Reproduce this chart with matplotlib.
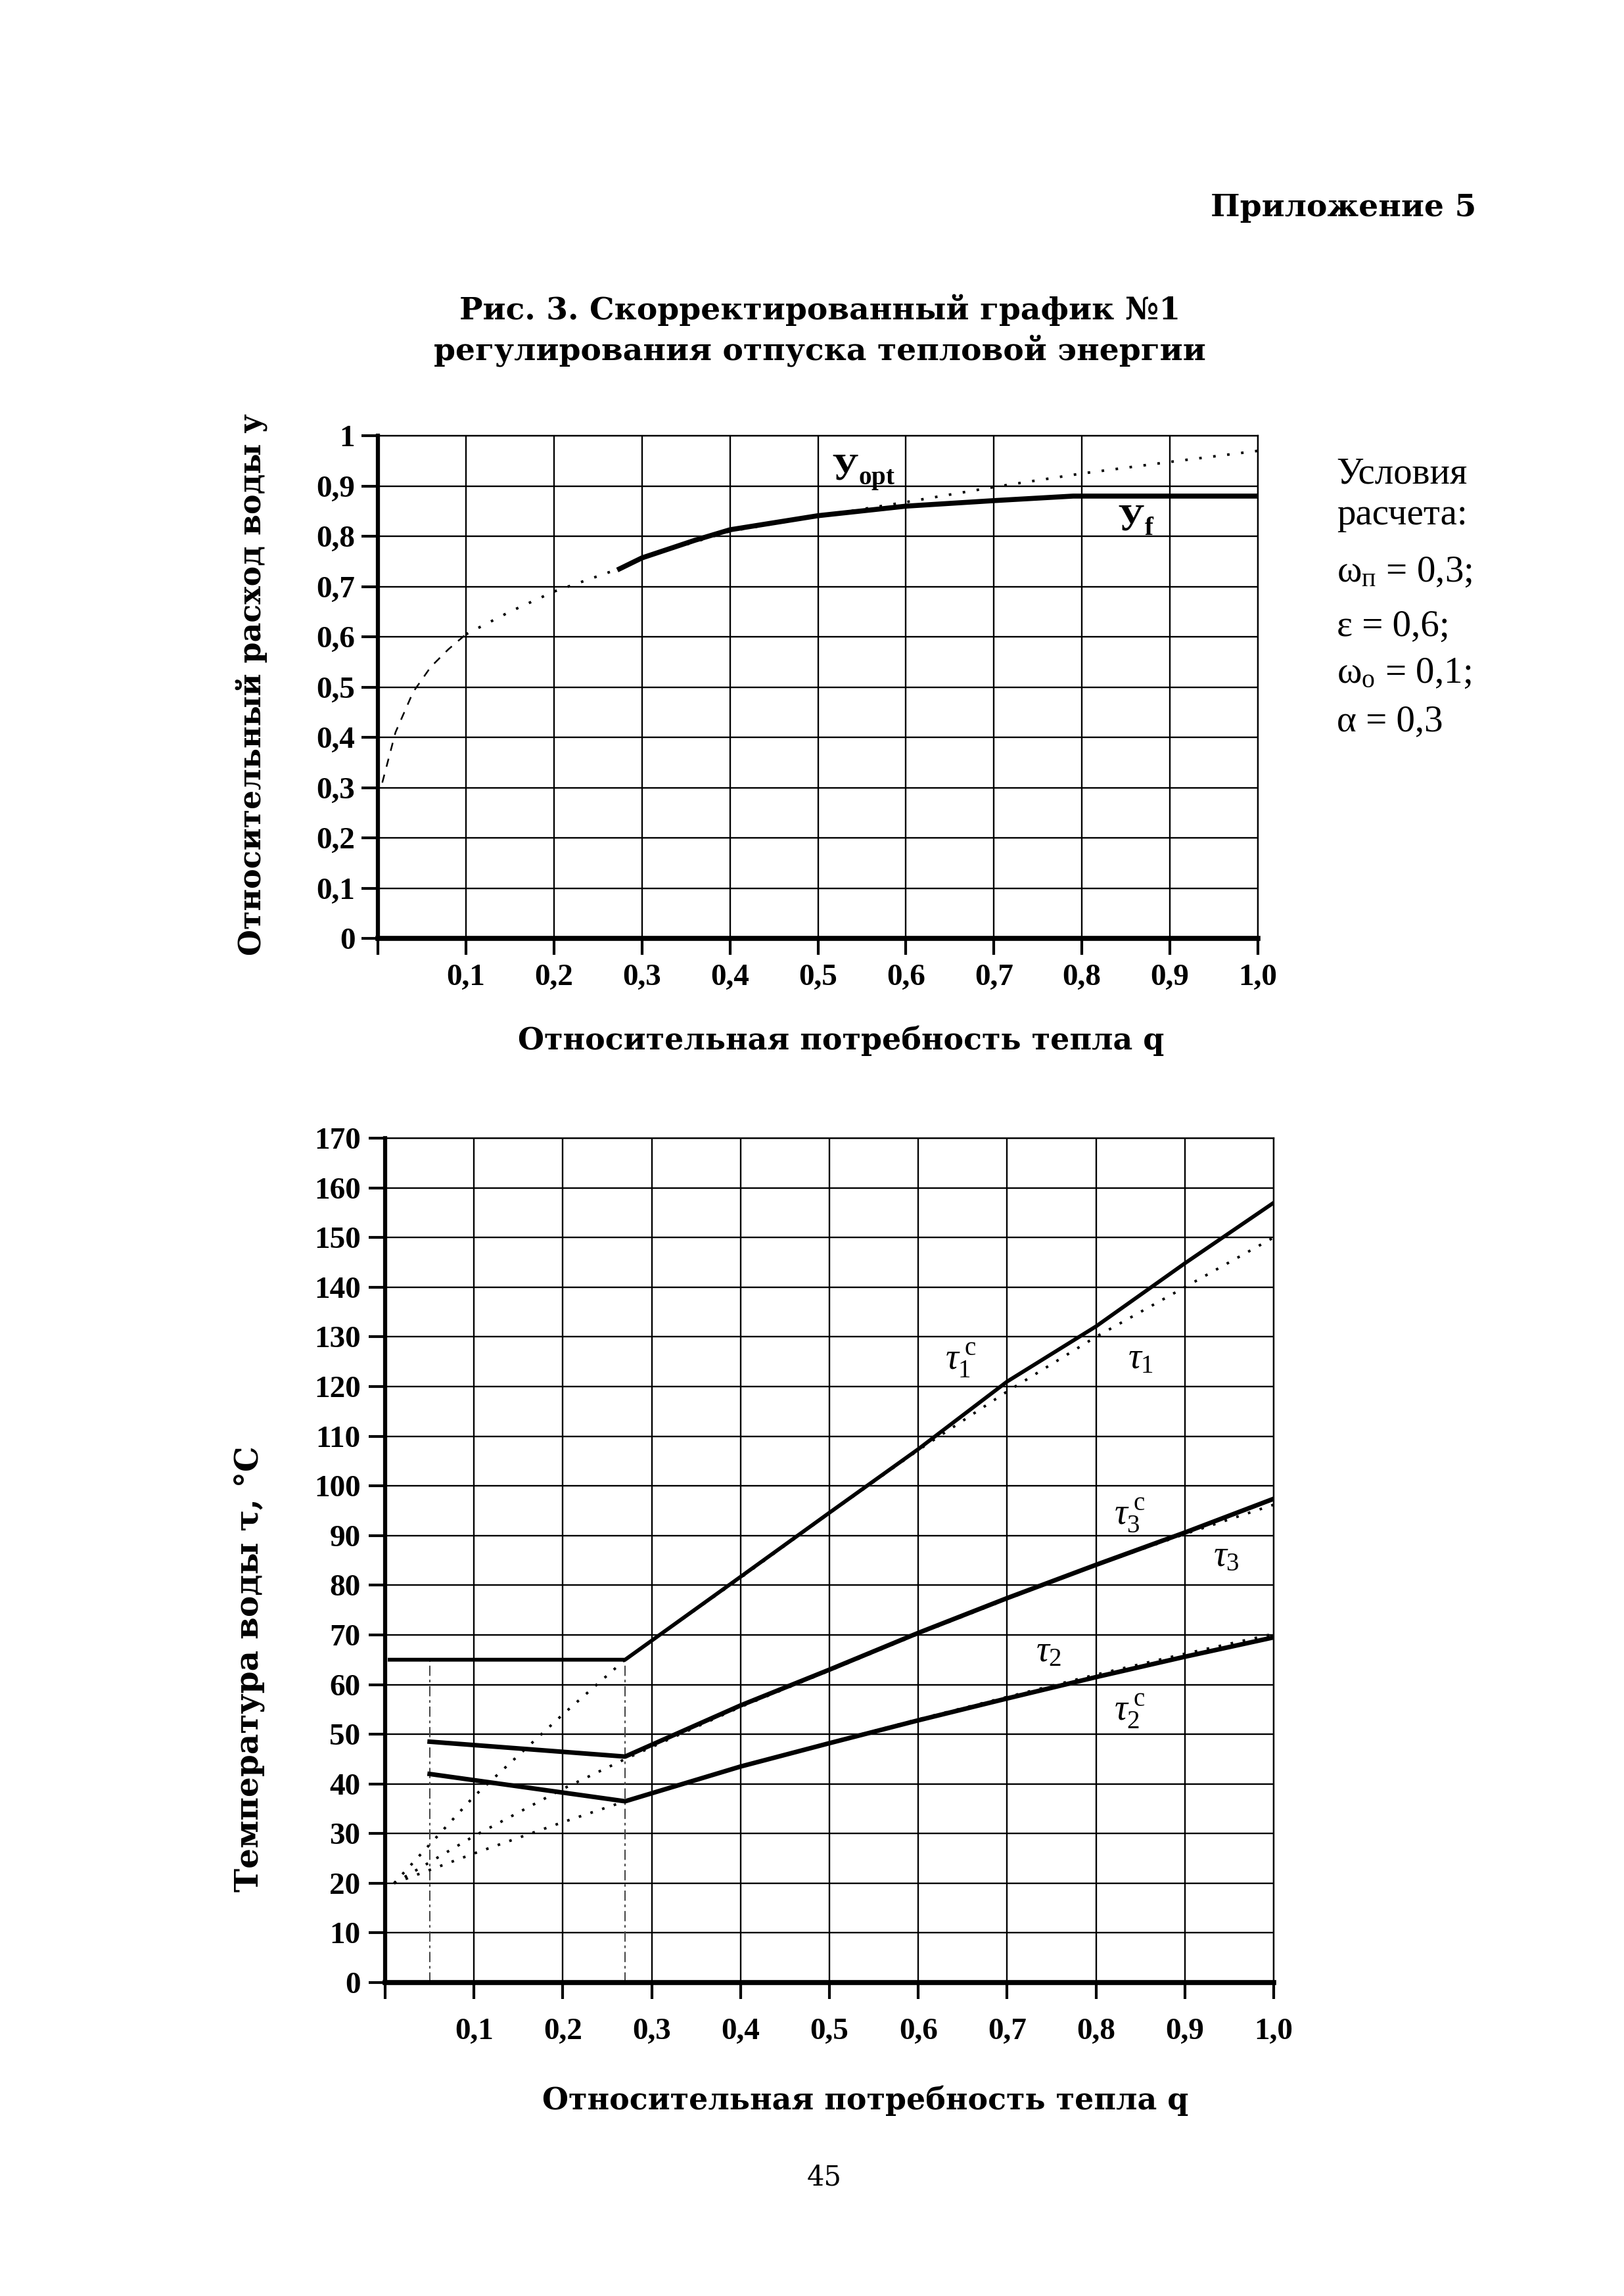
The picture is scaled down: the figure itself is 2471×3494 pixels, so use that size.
import matplotlib
matplotlib.use('Agg')
import matplotlib.pyplot as plt
import numpy as np

plt.rcParams['font.family'] = ['Liberation Serif', 'DejaVu Serif']
plt.rcParams['mathtext.fontset'] = 'custom'
plt.rcParams['mathtext.rm'] = 'Liberation Serif'
plt.rcParams['mathtext.it'] = 'Liberation Serif:italic'
plt.rcParams['mathtext.bf'] = 'Liberation Serif:bold'

# --- upper chart: relative water flow y vs relative heat demand q
q_opt_low = [0.005, 0.02, 0.04, 0.06, 0.08, 0.1]
y_opt_low = [0.31, 0.41, 0.49, 0.54, 0.575, 0.605]
q_opt = [0.1, 0.15, 0.2, 0.27, 0.3, 0.4, 0.5, 0.6, 0.7, 0.8, 0.9, 1.0]
y_opt = [0.605, 0.65, 0.69, 0.733, 0.757, 0.81, 0.84, 0.868, 0.898, 0.925, 0.948, 0.97]
q_f = [0.272, 0.3, 0.36, 0.4, 0.5, 0.6, 0.7, 0.79, 0.9, 1.0]
y_f = [0.733, 0.757, 0.792, 0.813, 0.841, 0.86, 0.871, 0.88, 0.88, 0.88]

# --- lower chart: water temperatures
q_start = [0.01, 0.1, 0.2, 0.27]
tau1_start = [20, 37.5, 54, 65]
tau3_start = [20, 29.5, 39, 45]
tau2_start = [20, 26, 32.3, 36.5]

q_grid = [0.27, 0.4, 0.5, 0.6, 0.7, 0.8, 0.9, 1.0]
tau1 = [65, 81.5, 94.5, 107.2, 119, 130, 140, 150]
tau1_c = [65, 81.7, 94.6, 107.4, 121, 132.1, 144.8, 157]
tau3 = [45, 55.5, 62.8, 70.2, 77.2, 84, 90.3, 96.2]
tau3_c = [45.5, 55.8, 63, 70.4, 77.4, 84.1, 90.6, 97.4]
tau2 = [36.5, 43.5, 48.3, 53, 57.5, 62, 66.2, 70.2]
tau2_c = [36.5, 43.5, 48.2, 52.8, 57.2, 61.5, 65.6, 69.5]

q_flat = [0.005, 0.27]
tau1_c_flat = [65, 65]
q_corr = [0.05, 0.27]
tau3_c_corr = [48.5, 45.5]
tau2_c_corr = [42, 36.5]

q_break = [0.05, 0.27]
tau_break = 65

conditions = ['Условия', 'расчета:', r'ω$_{\mathrm{п}}$ = 0,3;',
              'ε = 0,6;', r'ω$_{\mathrm{о}}$ = 0,1;', 'α = 0,3']
conditions_y = [0.7934, 0.7756, 0.7507, 0.7270, 0.7066, 0.6857]

DOT = (0, (1, 3.8))
BOLD = dict(family='DejaVu Serif', fontweight='bold')


def dec(v, fmt):
    return (fmt % v).replace('.', ',')


def styleAxis(ax, ymax, ystep, yfmt, xpad, ypad):
    ax.set_xlim(0, 1.0)
    ax.set_ylim(0, ymax)
    xt = np.round(np.arange(0, 1.001, 0.1), 1)
    yt = np.arange(0, ymax + ystep / 2, ystep)
    ax.set_xticks(xt)
    ax.set_yticks(yt)
    ax.set_xticklabels([''] + [dec(v, '%.1f') for v in xt[1:]],
                       family='Liberation Serif', fontweight='bold')
    ax.set_yticklabels([yfmt(v) for v in yt],
                       family='Liberation Serif', fontweight='bold')
    ax.grid(True, color='black', lw=1.7)
    ax.set_axisbelow(True)
    for side in ['top', 'right']:
        ax.spines[side].set_linewidth(1.7)
    ax.spines['left'].set_linewidth(4.5)
    ax.spines['bottom'].set_linewidth(5.5)
    ax.tick_params(direction='out', length=18, width=3, labelsize=34)
    ax.tick_params(axis='x', pad=xpad)
    ax.tick_params(axis='y', pad=ypad)


def main():
    fig = plt.figure(figsize=(24.71, 34.94), dpi=100)

    # page header
    fig.text(0.909, 0.9096, 'Приложение 5', ha='right', va='center',
             fontsize=34, **BOLD)
    fig.text(0.505, 0.8649, 'Рис. 3. Скорректированный график №1',
             ha='center', va='center', fontsize=34, **BOLD)
    fig.text(0.505, 0.8469, 'регулирования отпуска тепловой энергии',
             ha='center', va='center', fontsize=34, **BOLD)

    # upper chart
    ax1 = fig.add_axes([0.2327, 0.5913, 0.5419, 0.2189])
    styleAxis(ax1, 1.0, 0.1,
              lambda v: '1' if v > 0.95 else ('0' if v < 0.05 else dec(v, '%.1f')),
              10, 7)
    ax1.plot(q_opt_low, y_opt_low, color='black', lw=1.8, ls=(0, (5, 5)))
    ax1.plot(q_opt, y_opt, color='black', lw=2.8, ls=(0, (1, 4.5)))
    ax1.plot(q_f, y_f, color='black', lw=5.5, solid_capstyle='butt')
    ax1.text(0.515, 0.925, r'$\mathbf{У}_{\mathbf{opt}}$', fontsize=40,
             ha='left', va='center')
    ax1.text(0.84, 0.83, r'$\mathbf{У}_{\mathbf{f}}$', fontsize=40,
             ha='left', va='center')

    fig.text(0.155, 0.7018, 'Относительный расход воды у', rotation=90,
             ha='center', va='center', fontsize=33, **BOLD)
    fig.text(0.518, 0.5467, 'Относительная потребность тепла q',
             ha='center', va='center', fontsize=33, **BOLD)

    for s, yy in zip(conditions, conditions_y):
        fig.text(0.823, yy, s, ha='left', va='center', fontsize=41,
                 family='Liberation Serif')

    # lower chart
    ax2 = fig.add_axes([0.2372, 0.1365, 0.5471, 0.3678])
    styleAxis(ax2, 170, 10, lambda v: '%d' % v, 21, 9)

    for qb in q_break:
        ax2.plot([qb, qb], [0, tau_break], color='0.25', lw=1.4,
                 ls=(0, (8, 3, 2, 3)))

    ax2.plot(q_start + q_grid[1:], tau1_start + tau1[1:], color='black',
             lw=2.8, ls=DOT)
    ax2.plot(q_start + q_grid[1:], tau3_start + tau3[1:], color='black',
             lw=2.8, ls=DOT)
    ax2.plot(q_start + q_grid[1:], tau2_start + tau2[1:], color='black',
             lw=2.8, ls=DOT)

    ax2.plot(q_flat + q_grid[1:], tau1_c_flat + tau1_c[1:], color='black',
             lw=4.2)
    ax2.plot(q_corr + q_grid[1:], tau3_c_corr + tau3_c[1:], color='black',
             lw=5.0)
    ax2.plot(q_corr + q_grid[1:], tau2_c_corr + tau2_c[1:], color='black',
             lw=5.0)

    tau_kw = dict(fontsize=40, ha='left', va='center')
    ax2.text(0.63, 125.2, r'$\tau_1^{\;\mathrm{c}}$', **tau_kw)
    ax2.text(0.836, 125.5, r'$\tau_1$', **tau_kw)
    ax2.text(0.82, 94, r'$\tau_3^{\;\mathrm{c}}$', **tau_kw)
    ax2.text(0.932, 85.7, r'$\tau_3$', **tau_kw)
    ax2.text(0.732, 66.5, r'$\tau_2$', **tau_kw)
    ax2.text(0.82, 54.5, r'$\tau_2^{\;\mathrm{c}}$', **tau_kw)

    fig.text(0.1534, 0.273, 'Температура воды τ, °С', rotation=90,
             ha='center', va='center', fontsize=35, **BOLD)
    fig.text(0.533, 0.085, 'Относительная потребность тепла q',
             ha='center', va='center', fontsize=33, **BOLD)

    fig.text(0.5075, 0.0518, '45', ha='center', va='center', fontsize=30,
             family='DejaVu Serif')

    fig.savefig('out.png', dpi=100, facecolor='white')


if __name__ == '__main__':
    main()
